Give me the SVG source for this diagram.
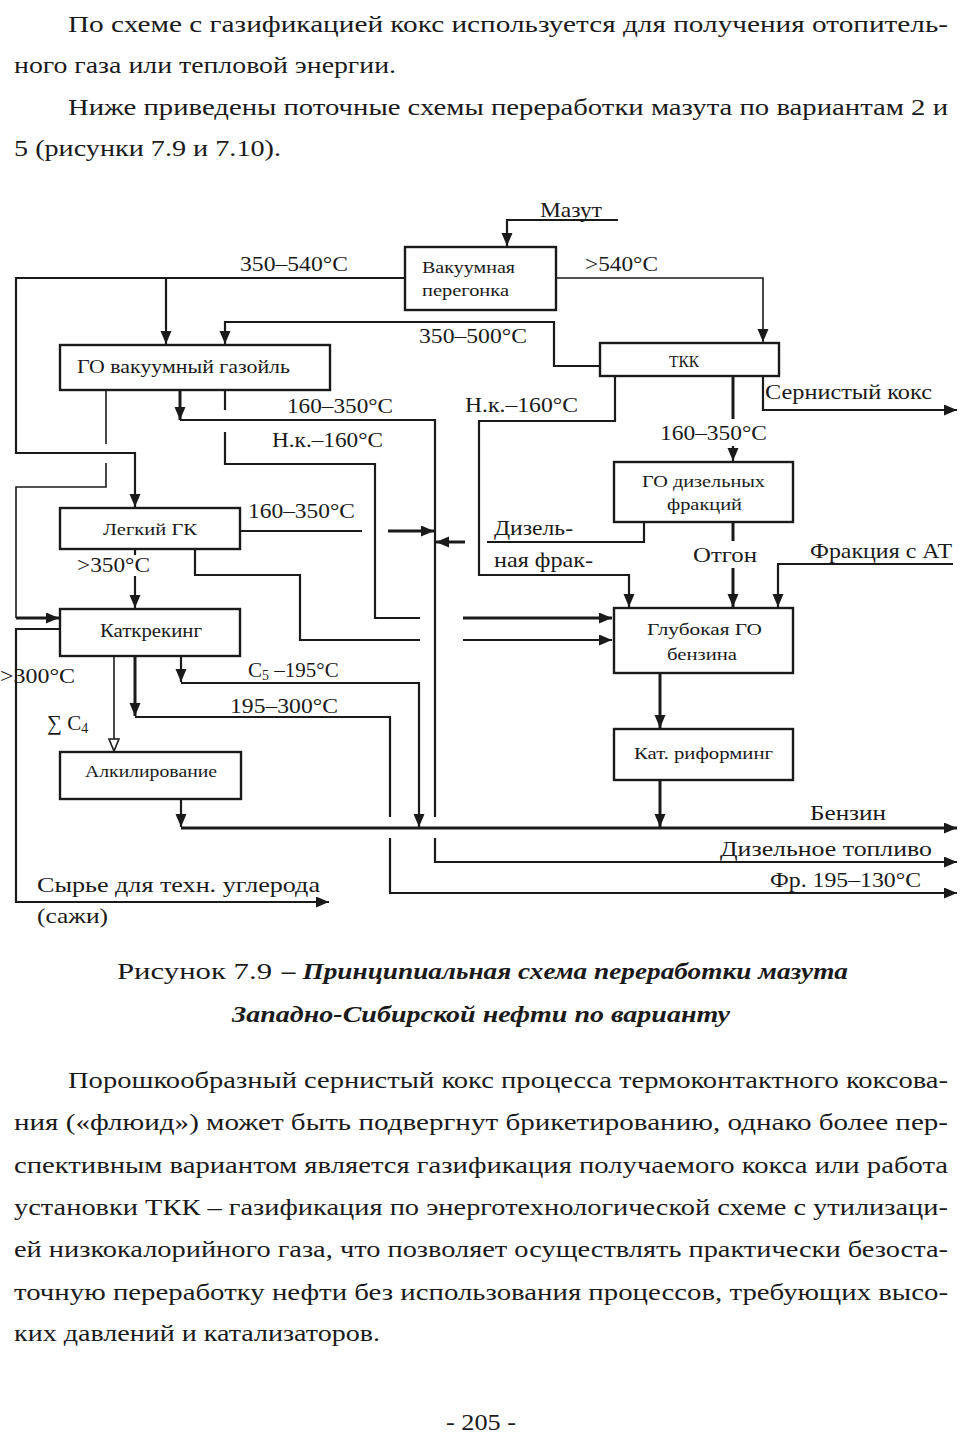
<svg xmlns="http://www.w3.org/2000/svg" width="968" height="1441" viewBox="0 0 968 1441">
<style>
text{font-family:"Liberation Serif","Times New Roman",serif;fill:#1a1a1a}
.body{font-size:24px}
.lbl{font-size:21px}
.box-t{font-size:17px}
.cap-b{font-weight:bold;font-style:italic}
.box{fill:#fff;stroke:#1a1a1a;stroke-width:2.4}
.c{fill:none;stroke:#1a1a1a;stroke-width:2.2}
.c3{fill:none;stroke:#1a1a1a;stroke-width:3}
.c1{fill:none;stroke:#1a1a1a;stroke-width:1.6}
</style>
<defs>
<marker id="arr" markerUnits="userSpaceOnUse" markerWidth="14" markerHeight="12" refX="13" refY="5.5" orient="auto"><path d="M0,0 L13,5.5 L0,11 z" fill="#1a1a1a"/></marker>
<marker id="open" markerUnits="userSpaceOnUse" markerWidth="14" markerHeight="13" refX="13" refY="6" orient="auto"><path d="M1,1 L13,6 L1,11 z" fill="#fff" stroke="#1a1a1a" stroke-width="1.6"/></marker>
</defs>
<rect width="968" height="1441" fill="#fff"/>

<g id="page-text" class="body">
<text x="68" y="32" textLength="880" lengthAdjust="spacingAndGlyphs">По схеме с газификацией кокс используется для получения отопитель-</text>
<text x="14" y="73" textLength="382" lengthAdjust="spacingAndGlyphs">ного газа или тепловой энергии.</text>
<text x="68" y="115" textLength="880" lengthAdjust="spacingAndGlyphs">Ниже приведены поточные схемы переработки мазута по вариантам 2 и</text>
<text x="14" y="156" textLength="267" lengthAdjust="spacingAndGlyphs">5 (рисунки 7.9 и 7.10).</text>
<text x="117" y="979" textLength="155" lengthAdjust="spacingAndGlyphs">Рисунок 7.9</text>
<text x="282" y="979" textLength="566" lengthAdjust="spacingAndGlyphs" class="cap-b">– Принципиальная схема переработки мазута</text>
<text x="232" y="1022" textLength="498" lengthAdjust="spacingAndGlyphs" class="cap-b">Западно-Сибирской нефти по варианту</text>
<text x="68" y="1088" textLength="880" lengthAdjust="spacingAndGlyphs">Порошкообразный сернистый кокс процесса термоконтактного коксова-</text>
<text x="14" y="1130" textLength="934" lengthAdjust="spacingAndGlyphs">ния («флюид») может быть подвергнут брикетированию, однако более пер-</text>
<text x="14" y="1173" textLength="934" lengthAdjust="spacingAndGlyphs">спективным вариантом является газификация получаемого кокса или работа</text>
<text x="14" y="1215" textLength="934" lengthAdjust="spacingAndGlyphs">установки ТКК – газификация по энерготехнологической схеме с утилизаци-</text>
<text x="14" y="1257" textLength="934" lengthAdjust="spacingAndGlyphs">ей низкокалорийного газа, что позволяет осуществлять практически безоста-</text>
<text x="14" y="1300" textLength="934" lengthAdjust="spacingAndGlyphs">точную переработку нефти без использования процессов, требующих высо-</text>
<text x="14" y="1341" textLength="366" lengthAdjust="spacingAndGlyphs">ких давлений и катализаторов.</text>
<text x="446" y="1430" textLength="70" lengthAdjust="spacingAndGlyphs">- 205 -</text>
</g>

<g id="connectors">
<path class="c" d="M618,220 H507 V246" marker-end="url(#arr)"/>
<path class="c" d="M405,278 H16 V453 H135 V507" marker-end="url(#arr)"/>
<path class="c" d="M166,278 V344" marker-end="url(#arr)"/>
<path class="c1" d="M556,278 H763 V342" marker-end="url(#arr)"/>
<path class="c" d="M600,366 H554 V322 H225 V344" marker-end="url(#arr)"/>
<path class="c3" d="M180,390 V420" marker-end="url(#arr)"/>
<path class="c" d="M180,420 H435 V817"/>
<path class="c" d="M435,838 V862 H957" marker-end="url(#arr)"/>
<path class="c" d="M225,390 V410"/>
<path class="c" d="M225,432 V464 H375 V618 H420"/>
<path class="c3" d="M463,618 H612" marker-end="url(#arr)"/>
<path class="c1" d="M106,390 V444"/>
<path class="c1" d="M106,463 V487 H16 V618"/>
<path class="c3" d="M16,618 H59" marker-end="url(#arr)"/>
<path class="c" d="M615,376 V421 H479 V575 H629 V607" marker-end="url(#arr)"/>
<path class="c3" d="M733,376 V419"/>
<path class="c" d="M733,446 V461" marker-end="url(#arr)"/>
<path class="c" d="M763,376 V410 H957" marker-end="url(#arr)"/>
<path class="c" d="M644,522 V542 H487"/>
<path class="c3" d="M465,542 H436" marker-end="url(#arr)"/>
<path class="c3" d="M733,522 V541"/>
<path class="c3" d="M733,568 V607" marker-end="url(#arr)"/>
<path class="c" d="M953,564 H778 V607" marker-end="url(#arr)"/>
<path class="c" d="M240,531 H362"/>
<path class="c3" d="M388,531 H434" marker-end="url(#arr)"/>
<path class="c" d="M135,549 V555"/>
<path class="c" d="M135,576 V608" marker-end="url(#arr)"/>
<path class="c" d="M195,541 V575 H300 V640 H420"/>
<path class="c" d="M463,640 H612" marker-end="url(#arr)"/>
<path class="c" d="M60,629 H16 V902 H329" marker-end="url(#arr)"/>
<path class="c1" d="M114,656 V751" marker-end="url(#open)"/>
<path class="c3" d="M135,656 V716" marker-end="url(#arr)"/>
<path class="c" d="M135,717 H390 V817"/>
<path class="c" d="M390,838 V893 H957" marker-end="url(#arr)"/>
<path class="c" d="M181,656 V682" marker-end="url(#arr)"/>
<path class="c" d="M181,683 H419 V827" marker-end="url(#arr)"/>
<path class="c" d="M181,799 V827" marker-end="url(#arr)"/>
<path class="c3" d="M181,828 H957" marker-end="url(#arr)"/>
<path class="c3" d="M660,673 V728" marker-end="url(#arr)"/>
<path class="c3" d="M660,780 V827" marker-end="url(#arr)"/>
</g>

<g id="connector-labels" class="lbl">
<text x="540" y="217" textLength="62" lengthAdjust="spacingAndGlyphs">Мазут</text>
<text x="240" y="271" textLength="108" lengthAdjust="spacingAndGlyphs">350–540°C</text>
<text x="585" y="271" textLength="73" lengthAdjust="spacingAndGlyphs">&gt;540°C</text>
<text x="419" y="343" textLength="108" lengthAdjust="spacingAndGlyphs">350–500°C</text>
<text x="765" y="399" textLength="167" lengthAdjust="spacingAndGlyphs">Сернистый кокс</text>
<text x="287" y="413" textLength="106" lengthAdjust="spacingAndGlyphs">160–350°C</text>
<text x="465" y="412" textLength="113" lengthAdjust="spacingAndGlyphs">Н.к.–160°C</text>
<text x="272" y="447" textLength="111" lengthAdjust="spacingAndGlyphs">Н.к.–160°C</text>
<text x="660" y="440" textLength="107" lengthAdjust="spacingAndGlyphs">160–350°C</text>
<text x="248" y="518" textLength="107" lengthAdjust="spacingAndGlyphs">160–350°C</text>
<text x="494" y="535" textLength="79" lengthAdjust="spacingAndGlyphs">Дизель-</text>
<text x="494" y="567" textLength="99" lengthAdjust="spacingAndGlyphs">ная фрак-</text>
<text x="693" y="562" textLength="64" lengthAdjust="spacingAndGlyphs">Отгон</text>
<text x="810" y="558" textLength="142" lengthAdjust="spacingAndGlyphs">Фракция с АТ</text>
<text x="77" y="572" textLength="73" lengthAdjust="spacingAndGlyphs">&gt;350°C</text>
<text x="0" y="683" textLength="75" lengthAdjust="spacingAndGlyphs">&gt;300°C</text>
<text x="248" y="677">C<tspan font-size="14" dy="3">5</tspan><tspan dy="-3"> –195°C</tspan></text>
<text x="230" y="713" textLength="108" lengthAdjust="spacingAndGlyphs">195–300°C</text>
<text x="47" y="730">∑ C<tspan font-size="14" dy="3">4</tspan></text>
<text x="810" y="820" textLength="76" lengthAdjust="spacingAndGlyphs">Бензин</text>
<text x="720" y="856" textLength="212" lengthAdjust="spacingAndGlyphs">Дизельное топливо</text>
<text x="770" y="887" textLength="151" lengthAdjust="spacingAndGlyphs">Фр. 195–130°C</text>
<text x="37" y="892" textLength="283" lengthAdjust="spacingAndGlyphs">Сырье для техн. углерода</text>
<text x="37" y="923" textLength="71" lengthAdjust="spacingAndGlyphs">(сажи)</text>
</g>

<g id="node-vacuum">
<rect class="box" x="405" y="247" width="151" height="63"/>
<text class="box-t" x="422" y="273" textLength="93" lengthAdjust="spacingAndGlyphs">Вакуумная</text>
<text class="box-t" x="422" y="296" textLength="87" lengthAdjust="spacingAndGlyphs">перегонка</text>
</g>
<g id="node-tkk">
<rect class="box" x="600" y="343" width="179" height="33"/>
<text class="box-t" x="669" y="367" textLength="30" lengthAdjust="spacingAndGlyphs">ТКК</text>
</g>
<g id="node-go-vg">
<rect class="box" x="60" y="345" width="270" height="45"/>
<text x="77" y="373" font-size="19" textLength="213" lengthAdjust="spacingAndGlyphs">ГО вакуумный газойль</text>
</g>
<g id="node-go-diz">
<rect class="box" x="614" y="462" width="179" height="60"/>
<text class="box-t" x="642" y="487" textLength="123" lengthAdjust="spacingAndGlyphs">ГО дизельных</text>
<text class="box-t" x="667" y="510" textLength="75" lengthAdjust="spacingAndGlyphs">фракций</text>
</g>
<g id="node-lgk">
<rect class="box" x="60" y="508" width="180" height="41"/>
<text class="box-t" x="103" y="535" textLength="94" lengthAdjust="spacingAndGlyphs">Легкий ГК</text>
</g>
<g id="node-glub">
<rect class="box" x="614" y="608" width="179" height="65"/>
<text class="box-t" x="647" y="635" textLength="115" lengthAdjust="spacingAndGlyphs">Глубокая  ГО</text>
<text class="box-t" x="667" y="660" textLength="70" lengthAdjust="spacingAndGlyphs">бензина</text>
</g>
<g id="node-katkr">
<rect class="box" x="60" y="609" width="180" height="47"/>
<text x="100" y="637" font-size="18" textLength="102" lengthAdjust="spacingAndGlyphs">Каткрекинг</text>
</g>
<g id="node-alk">
<rect class="box" x="60" y="752" width="181" height="47"/>
<text class="box-t" x="85" y="777" textLength="132" lengthAdjust="spacingAndGlyphs">Алкилирование</text>
</g>
<g id="node-katref">
<rect class="box" x="614" y="729" width="179" height="51"/>
<text class="box-t" x="634" y="759" textLength="139" lengthAdjust="spacingAndGlyphs">Кат. риформинг</text>
</g>
</svg>
